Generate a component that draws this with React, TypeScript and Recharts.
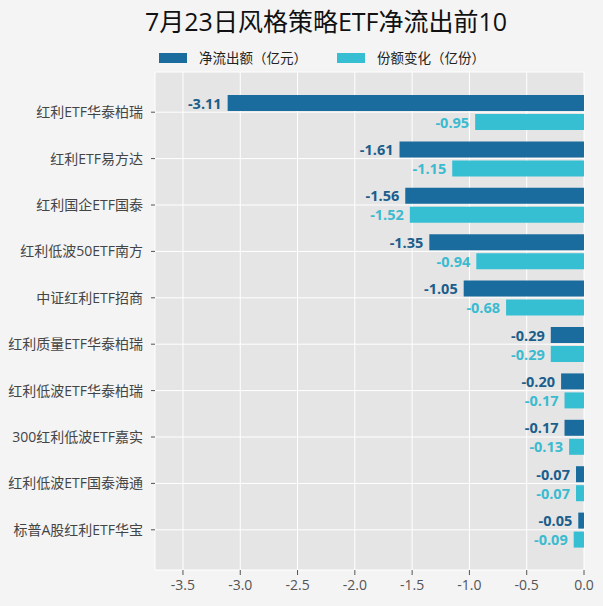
import React from 'react';
import { BarChart, Bar, XAxis, YAxis, CartesianGrid, LabelList } from 'recharts';

const categories = [
  '红利ETF华泰柏瑞',
  '红利ETF易方达',
  '红利国企ETF国泰',
  '红利低波50ETF南方',
  '中证红利ETF招商',
  '红利质量ETF华泰柏瑞',
  '红利低波ETF华泰柏瑞',
  '300红利低波ETF嘉实',
  '红利低波ETF国泰海通',
  '标普A股红利ETF华宝',
];
const netOutflow = [-3.11, -1.61, -1.56, -1.35, -1.05, -0.29, -0.2, -0.17, -0.07, -0.05];
const shareChange = [-0.95, -1.15, -1.52, -0.94, -0.68, -0.29, -0.17, -0.13, -0.07, -0.09];
const xTicks = [-3.5, -3.0, -2.5, -2.0, -1.5, -1.0, -0.5, 0.0];

const DARK = '#1a6c9e';
const LIGHT = '#36bfd3';
const FONT = '"Open Sans", "Noto Sans CJK SC", sans-serif';

const data = categories.map((name, i) => ({
  name,
  net: netOutflow[i],
  share: shareChange[i],
}));

// label sits just left of the bar's far (negative) end
const makeLabel = (color: string) => (props: any) => {
  const { x, y, width, height, value } = props;
  const left = Math.min(x, x + width);
  return (
    <text
      x={left - 6}
      y={y + height / 2}
      textAnchor="end"
      dominantBaseline="central"
      fill={color}
      fontSize={14.5}
      fontWeight="bold"
      fontFamily={FONT}
    >
      {Number(value).toFixed(2)}
    </text>
  );
};

const LegendItem = ({ color, label, left }: { color: string; label: string; left: number }) => (
  <div style={{ position: 'absolute', left, top: 49, display: 'flex', alignItems: 'center' }}>
    <div style={{ width: 28, height: 10, background: color, marginRight: 12 }} />
    <span style={{ fontSize: 13.5, color: '#222', lineHeight: '18px' }}>{label}</span>
  </div>
);

const App: React.FC = () => {
  return (
    <div
      style={{
        position: 'absolute',
        left: 0,
        top: 0,
        width: 603,
        height: 606,
        background: '#f4f4f4',
        fontFamily: FONT,
        overflow: 'hidden',
      }}
    >
      <div
        style={{
          position: 'absolute',
          left: 145,
          top: 3,
          fontSize: 25,
          color: '#111',
          whiteSpace: 'nowrap',
          lineHeight: '36px',
        }}
      >
        7月23日风格策略ETF净流出前10
      </div>
      <LegendItem color={DARK} label="净流出额（亿元）" left={159} />
      <LegendItem color={LIGHT} label="份额变化（亿份）" left={337} />
      <BarChart
        width={603}
        height={606}
        data={data}
        layout="vertical"
        margin={{ top: 72, right: 19, bottom: 6, left: 0 }}
        barSize={16}
        barGap={3}
      >
        <CartesianGrid fill="#e5e5e5" stroke="#ffffff" strokeWidth={1} />
        <XAxis
          type="number"
          domain={[-3.744, 0]}
          ticks={xTicks}
          tickFormatter={(v: number) => v.toFixed(1)}
          axisLine={false}
          tickLine={{ stroke: '#555' }}
          tickSize={5}
          tickMargin={5}
          height={30}
          tick={{ fontSize: 14, fill: '#555', fontFamily: FONT }}
          allowDataOverflow
        />
        <YAxis
          type="category"
          dataKey="name"
          width={155}
          axisLine={false}
          tickLine={{ stroke: '#555' }}
          tickSize={4}
          tickMargin={8}
          padding={{ top: 17, bottom: 17 }}
          tick={{ fontSize: 14, fill: '#444', fontFamily: FONT }}
          interval={0}
        />
        <Bar dataKey="net" fill={DARK} isAnimationActive={false}>
          <LabelList dataKey="net" content={makeLabel('#1b5e8c')} />
        </Bar>
        <Bar dataKey="share" fill={LIGHT} isAnimationActive={false}>
          <LabelList dataKey="share" content={makeLabel('#3bbbd0')} />
        </Bar>
      </BarChart>
    </div>
  );
};

export default App;
